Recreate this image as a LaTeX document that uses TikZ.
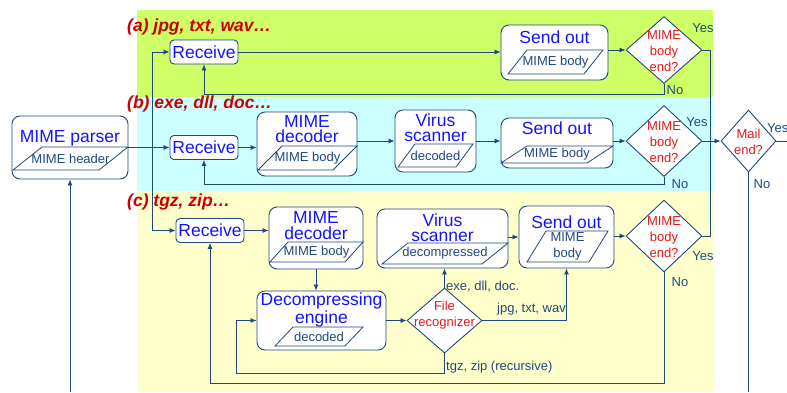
\documentclass[tikz,border=0pt]{standalone}
\usepackage{fontspec}
\setmainfont{Liberation Sans}
\usetikzlibrary{arrows.meta, shapes.geometric}
\definecolor{linec}{RGB}{31,73,125}
\definecolor{titlec}{RGB}{20,20,255}
\definecolor{redc}{RGB}{230,25,25}
\definecolor{tagc}{RGB}{204,0,0}
\definecolor{bandA}{RGB}{206,255,102}
\definecolor{bandB}{RGB}{204,255,255}
\definecolor{bandC}{RGB}{255,255,204}

\newcommand{\bigf}{\fontsize{17.5}{15.5}\selectfont}
\newcommand{\smallf}{\fontsize{13}{16}\selectfont}
\newcommand{\tagf}{\fontsize{17.5}{20}\selectfont\bfseries\itshape}

% data slip: name, bottom-left x y, top-right x y, edge length, text
\newcommand{\datum}[7]{%
  \draw[datum] (#2,#3) -- ++(#6,0) -- (#4,#5) -- ++(-#6,0) -- cycle;
  \node[note, align=center] (#1) at ({(#2+#4)/2},{(#3+#5)/2}) {#7};}

\tikzset{
  box/.style={draw=linec, fill=white, line width=0.9pt, rounded corners=8pt, inner sep=0pt},
  recv/.style={box, rounded corners=4pt, minimum width=68pt, minimum height=24pt, font=\bigf, text=titlec},
  head/.style={font=\bigf, text=titlec, align=center, inner sep=0pt},
  note/.style={font=\smallf, text=linec, inner sep=0pt},
  datum/.style={draw=linec, line width=0.8pt},
  choice/.style={diamond, draw=linec, fill=white, line width=0.9pt, inner sep=0pt},
  ask/.style={font=\smallf, text=redc, align=center, inner sep=0pt},
  wire/.style={draw=linec, line width=0.8pt},
  flow/.style={wire, -{Latex[length=6pt,width=5pt]}},
  tag/.style={font=\tagf, text=tagc, anchor=west, inner sep=0pt}
}

\begin{document}
\begin{tikzpicture}[x=1pt, y=-1pt]
\useasboundingbox (0,0) rectangle (787,392);

% bands for the three file classes
\fill[bandA] (137,10) rectangle (713,97);
\fill[bandB] (137,97) rectangle (713,191);
\fill[bandC] (137,191) rectangle (713,392);
\node[tag] (tagA) at (127,27) {(a) jpg, txt, wav…};
\node[tag] (tagB) at (127,104) {(b) exe, dll, doc…};
\node[tag] (tagC) at (127,202) {(c) tgz, zip…};

% parser
\node[box, minimum width=116pt, minimum height=63pt] (parser) at (70,147.5) {};
\node[head] (parserT) at (70,138) {MIME parser};
\datum{hdr}{13}{170}{128}{147}{86}{MIME header}

% (a)
\node[recv] (recA) at (204,52) {Receive};
\node[box, minimum width=107pt, minimum height=55pt] (sendA) at (554.5,52.5) {};
\node[head] (sendAT) at (554.5,37) {Send out};
\datum{bodyA}{508}{74}{603}{50}{76}{MIME body}
\node[choice, minimum width=76pt, minimum height=67pt] (endA) at (664,50) {};
\node[ask] (endAT) at (664,51) {MIME\\body\\end?};

% (b)
\node[recv] (recB) at (204,147.5) {Receive};
\node[box, minimum width=100pt, minimum height=64pt] (decB) at (307,144) {};
\node[head] (decBT) at (307,129) {MIME\\decoder};
\datum{bodyB}{258}{170}{357}{146}{75}{MIME body}
\node[box, minimum width=81pt, minimum height=62pt] (virB) at (435.5,141) {};
\node[head] (virBT) at (435.5,127.5) {Virus\\scanner};
\datum{plainB}{398}{167}{473}{144}{58}{decoded}
\node[box, minimum width=112pt, minimum height=50pt] (sendB) at (557,143) {};
\node[head] (sendBT) at (557,128) {Send out};
\datum{bodyB2}{501}{163}{613}{146}{86}{MIME body}
\node[choice, minimum width=76pt, minimum height=71pt] (endB) at (664,141) {};
\node[ask] (endBT) at (664,142) {MIME\\body\\end?};

% (c)
\node[recv] (recC) at (210,230.5) {Receive};
\node[box, minimum width=94pt, minimum height=62pt] (decC) at (316,238) {};
\node[head] (decCT) at (316,225.5) {MIME\\decoder};
\datum{bodyC}{270}{262}{363}{242}{75}{MIME body}
\node[box, minimum width=131pt, minimum height=59pt] (virC) at (442.5,238.5) {};
\node[head] (virCT) at (442.5,227.5) {Virus\\scanner};
\datum{plainC}{382}{264}{508}{243}{100}{decompressed}
\node[box, minimum width=95pt, minimum height=62pt] (sendC) at (566.5,237) {};
\node[head] (sendCT) at (566.5,222) {Send out};
\datum{bodyC2}{527}{262}{608}{231}{62}{MIME\\body}
\node[choice, minimum width=76pt, minimum height=72pt] (endC) at (664,236) {};
\node[ask] (endCT) at (664,237) {MIME\\body\\end?};
\node[box, minimum width=129pt, minimum height=59pt] (unzip) at (321.5,320.5) {};
\node[head] (unzipT) at (321.5,310) {Decompressing\\engine};
\datum{plainU}{275}{346}{363}{327}{70}{decoded}
\node[choice, minimum width=75pt, minimum height=65pt] (fileRec) at (444.5,320.5) {};
\node[ask] (fileRecT) at (444.5,315) {File\\recognizer};

% mail loop
\node[choice, minimum width=55pt, minimum height=62pt] (mailEnd) at (748.5,141) {};
\node[ask] (mailEndT) at (748.5,141.5) {Mail\\end?};

% connectors
\coordinate (split) at (152,147.5);
\coordinate (mailIn) at (70,392);
\coordinate (mailOut) at (748.5,392);
\coordinate (mailDone) at (787,141);
\draw[flow] (mailIn) -- (parser.south);
\draw[flow] (parser.east) -- (recB.west);
\draw[flow] (split) |- (recA.west);
\draw[flow] (split) |- (recC.west);

\draw[flow] (recA.east) -- (recA.east -| sendA.west);
\draw[flow] (sendA.east |- endA) -- (endA.west);
\draw[flow] (endA.south) -- ++(0,10) -| (recA.south);

\draw[flow] (recB.east) -- (recB.east -| decB.west);
\draw[flow] (decB.east |- virB) -- (virB.west);
\draw[flow] (virB.east) -- (virB.east -| sendB.west);
\draw[flow] (sendB.east |- endB) -- (endB.west);
\draw[flow] (endB.south) -- ++(0,7) -| (recB.south);

\draw[flow] (recC.east) -- (recC.east -| decC.west);
\draw[flow] (decC.south) -- (decC.south |- unzip.north);
\draw[flow] (unzip.east) -- (fileRec.west);
\draw[flow] (fileRec.north) -- (fileRec.north |- virC.south);
\draw[flow] (fileRec.east) -| (sendC.south);
\draw[flow] (fileRec.south) -- ++(0,20) -| ([xshift=-20pt]unzip.west) -- (unzip.west);
\draw[flow] (virC.east |- sendC) -- (sendC.west);
\draw[flow] (sendC.east |- endC) -- (endC.west);
\draw[flow] (endC.south) -- ++(0,111) -| (recC.south);

\draw[wire] (endA.east) -| ([xshift=8pt]endC.east) -- (endC.east);
\draw[flow] (endB.east) -- (mailEnd.west);
\draw[wire] (mailEnd.south) -- (mailOut);
\draw[wire] (mailEnd.east) -- (mailDone);

% branch labels
\node[note] (yesA) at (703,28) {Yes};
\node[note] (noA) at (675,90) {No};
\node[note] (yesB) at (697,122) {Yes};
\node[note] (noB) at (680,184) {No};
\node[note] (yesC) at (703,256) {Yes};
\node[note] (noC) at (680,282) {No};
\node[note, anchor=west] (yesM) at (767,128) {Yes};
\node[note] (noM) at (762,184) {No};
\node[note, anchor=west] (toVirus) at (446,287) {exe, dll, doc.};
\node[note, anchor=east] (toSend) at (566,309) {jpg, txt, wav};
\node[note, anchor=west] (toUnzip) at (446,367) {tgz, zip (recursive)};
\end{tikzpicture}
\end{document}
